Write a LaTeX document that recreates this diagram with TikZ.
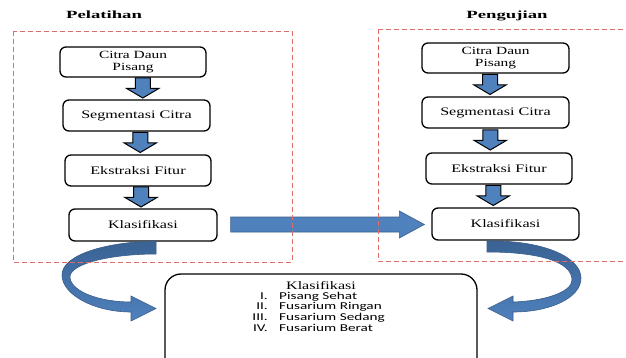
\documentclass[tikz,border=0pt]{standalone}
\usepackage{fontspec}
\setmainfont{Liberation Serif}[FakeStretch=1.4]
\newfontfamily\ttlfont{Liberation Serif}[FakeStretch=1.7]
\newfontfamily\lstfont{Carlito}[FakeStretch=1.45]
\usetikzlibrary{calc}
\definecolor{arrblue}{HTML}{4F81BD}
\definecolor{arrdark}{HTML}{385D8A}
\definecolor{arrdeep}{HTML}{3A6293}
\definecolor{dashred}{HTML}{E06C6C}
\tikzset{
  stepbox/.style={draw=black, line width=1.3pt, rounded corners=6pt, fill=white,
    minimum height=31pt, minimum width=147pt, inner sep=0pt,
    font=\fontsize{11.5}{9.8}\selectfont, align=center},
  twoline/.style={font=\fontsize{11}{11.5}\selectfont},
  ttl/.style={font=\ttlfont\bfseries\fontsize{11}{12}\selectfont, anchor=base, inner sep=0pt},
  lst/.style={font=\lstfont\fontsize{10.5}{11}\selectfont, inner sep=0pt},
  phase/.style={draw=dashred, line width=0.9pt, dash pattern=on 5pt off 3pt},
  downfill/.style={fill=arrblue, draw=black, line width=1pt},
  bigarrow/.style={fill=arrblue, draw=arrdark, line width=0.6pt},
  curvearrow/.style={top color=arrdeep, bottom color=arrblue, draw=arrdark, line width=0.6pt},
  pics/dnarrow/.style={code={
    \draw[downfill] (-7.5,-10.5) -- (7.5,-10.5) -- (7.5,0) -- (16,0) -- (0,9.5) -- (-16,0) -- (-7.5,0) -- cycle;}}
}
\begin{document}
\begin{tikzpicture}[x=1pt,y=-1pt]
\useasboundingbox (0,0) rectangle (626,358);
\clip (0,0) rectangle (626,358);
\fill[white] (0,0) rectangle (626,358);

% titles
\node[ttl] (tl) at (104,19) {Pelatihan};
\node[ttl] (tr) at (507,19) {Pengujian};

% left column
\node[stepbox, twoline, minimum width=146pt, minimum height=30pt] (c1) at (133,62) {Citra Daun\\Pisang};
\node[stepbox] (s1) at (136.5,115.5) {Segmentasi Citra};
\node[stepbox, minimum width=146pt] (e1) at (138,170.5) {Ekstraksi Fitur};
\node[stepbox, minimum width=148pt, minimum height=32pt] (k1) at (143,225) {Klasifikasi};

% right column
\node[stepbox, twoline, minimum height=30pt] (c2) at (495.5,58) {Citra Daun\\Pisang};
\node[stepbox] (s2) at (495.5,112.5) {Segmentasi Citra};
\node[stepbox, minimum width=146pt] (e2) at (499,168.5) {Ekstraksi Fitur};
\node[stepbox, minimum height=32pt] (k2) at (505.5,224) {Klasifikasi};

% block arrows down
\pic at ($(c1.south)!0.5!(s1.north)+(8,0)$) {dnarrow};
\pic at ($(s1.south)!0.5!(e1.north)+(3,0)$) {dnarrow};
\pic at ($(e1.south)!0.5!(k1.north)+(0.5,0)$) {dnarrow};
\pic at ($(c2.south)!0.5!(s2.north)+(-5.5,0)$) {dnarrow};
\pic at ($(s2.south)!0.5!(e2.north)+(-7,0)$) {dnarrow};
\pic at ($(e2.south)!0.5!(k2.north)+(-9,0)$) {dnarrow};

% horizontal arrow
\coordinate (hs) at ($(k1.east)+(13,-0.5)$);
\coordinate (ht) at ($(k2.west)+(-7,0.5)$);
\draw[bigarrow] ($(hs)+(0,-7.5)$) -- ($(ht)+(-25,-7.5)$) -- ($(ht)+(-25,-13.5)$) -- (ht)
  -- ($(ht)+(-25,13.5)$) -- ($(ht)+(-25,7.5)$) -- ($(hs)+(0,7.5)$) -- cycle;

% result box
\draw[line width=1.3pt, rounded corners=16pt, fill=white] (165,274) rectangle (477,390);
\node[anchor=base, inner sep=0pt, font=\fontsize{11.5}{12}\selectfont] (rk) at (321,289.5) {Klasifikasi};
\node[lst, anchor=base east] (n1) at (268,299) {I.};
\node[lst, anchor=base west] (t1) at (279,299) {Pisang Sehat};
\node[lst, anchor=base east] (n2) at (268,309.7) {II.};
\node[lst, anchor=base west] (t2) at (279,309.7) {Fusarium Ringan};
\node[lst, anchor=base east] (n3) at (268,320.4) {III.};
\node[lst, anchor=base west] (t3) at (279,320.4) {Fusarium Sedang};
\node[lst, anchor=base east] (n4) at (268,331.1) {IV.};
\node[lst, anchor=base west] (t4) at (279,331.1) {Fusarium Berat};

% curved arrows
\draw[curvearrow] (156,241) .. controls (105,242) and (62,255) .. (62,275)
  .. controls (62,295) and (95,312) .. (131,312)
  -- (131,321) -- (156,308.5) -- (131,296) -- (131,302)
  .. controls (100,302) and (72,292) .. (70,278)
  .. controls (68,264) and (110,254) .. (156,254) -- cycle;
\draw[curvearrow] (487,241) .. controls (545,240) and (581,258) .. (581,278)
  .. controls (581,298) and (550,312) .. (513,312)
  -- (513,321) -- (488,308.5) -- (513,296) -- (513,302)
  .. controls (545,301) and (572,292) .. (572,280)
  .. controls (572,262) and (540,252) .. (487,252) -- cycle;

% phase frames
\draw[phase] (13,31) rectangle (292,262);
\draw[phase] (378,29) -- (378,261) -- (640,261);
\draw[phase] (378,29) -- (640,29);
\end{tikzpicture}
\end{document}
